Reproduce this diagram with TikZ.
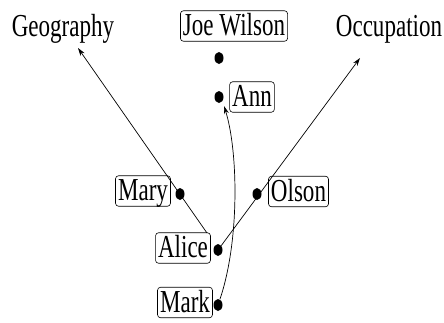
\documentclass[tikz,border=0pt]{standalone}
\usepackage{fontspec}
\setmainfont{Liberation Serif}[FakeStretch=0.72]
\usetikzlibrary{arrows.meta,shapes.geometric}
\begin{document}
\begin{tikzpicture}[x=1pt,y=-1pt,
  lbl/.style={font=\fontsize{32}{34}\selectfont, inner sep=0pt, text height=21.5pt, text depth=2pt},
  namebox/.style={lbl, draw, rounded corners=3pt, line width=0.6pt, inner xsep=2.5pt, inner ysep=3.5pt},
  dot/.style={ellipse, fill=black, minimum width=9pt, minimum height=12pt, inner sep=0pt},
  conn/.style={line width=0.7pt},
  arr/.style={conn, -{Stealth[length=8pt,width=5pt]}}]
\useasboundingbox (0,0) rectangle (444,322);
% top labels
\node[lbl] (geo) at (63,26.5) {Geography};
\node[namebox] (joe) at (234,26) {Joe Wilson};
\node[lbl] (occ) at (389,26.5) {Occupation};
% dots and boxes
\node[dot] (joedot) at (219,58) {};
\node[dot] (anndot) at (219,97) {};
\node[namebox] (ann) at (252,97) {Ann};
\node[namebox] (mary) at (143,191) {Mary};
\node[dot] (marydot) at (180,194) {};
\node[namebox] (olson) at (298.5,191.5) {Olson};
\node[dot] (olsondot) at (257,194) {};
\node[namebox] (alice) at (183,248) {Alice};
\node[dot] (alicedot) at (218,250) {};
\node[namebox] (mark) at (185,302.5) {Mark};
\node[dot] (markdot) at (218,305) {};
% free ends
\coordinate (geostart) at (207,233);
\coordinate (geotip) at (78,48);
\coordinate (occtip) at (360,58);
\coordinate (anntip) at (224,106);
% connectors
\draw[arr] (geostart) -- (geotip);
\draw[arr] (alicedot) -- (occtip);
\draw[arr] (markdot) .. controls (240,240) and (238,150) .. (anntip);
\end{tikzpicture}
\end{document}
